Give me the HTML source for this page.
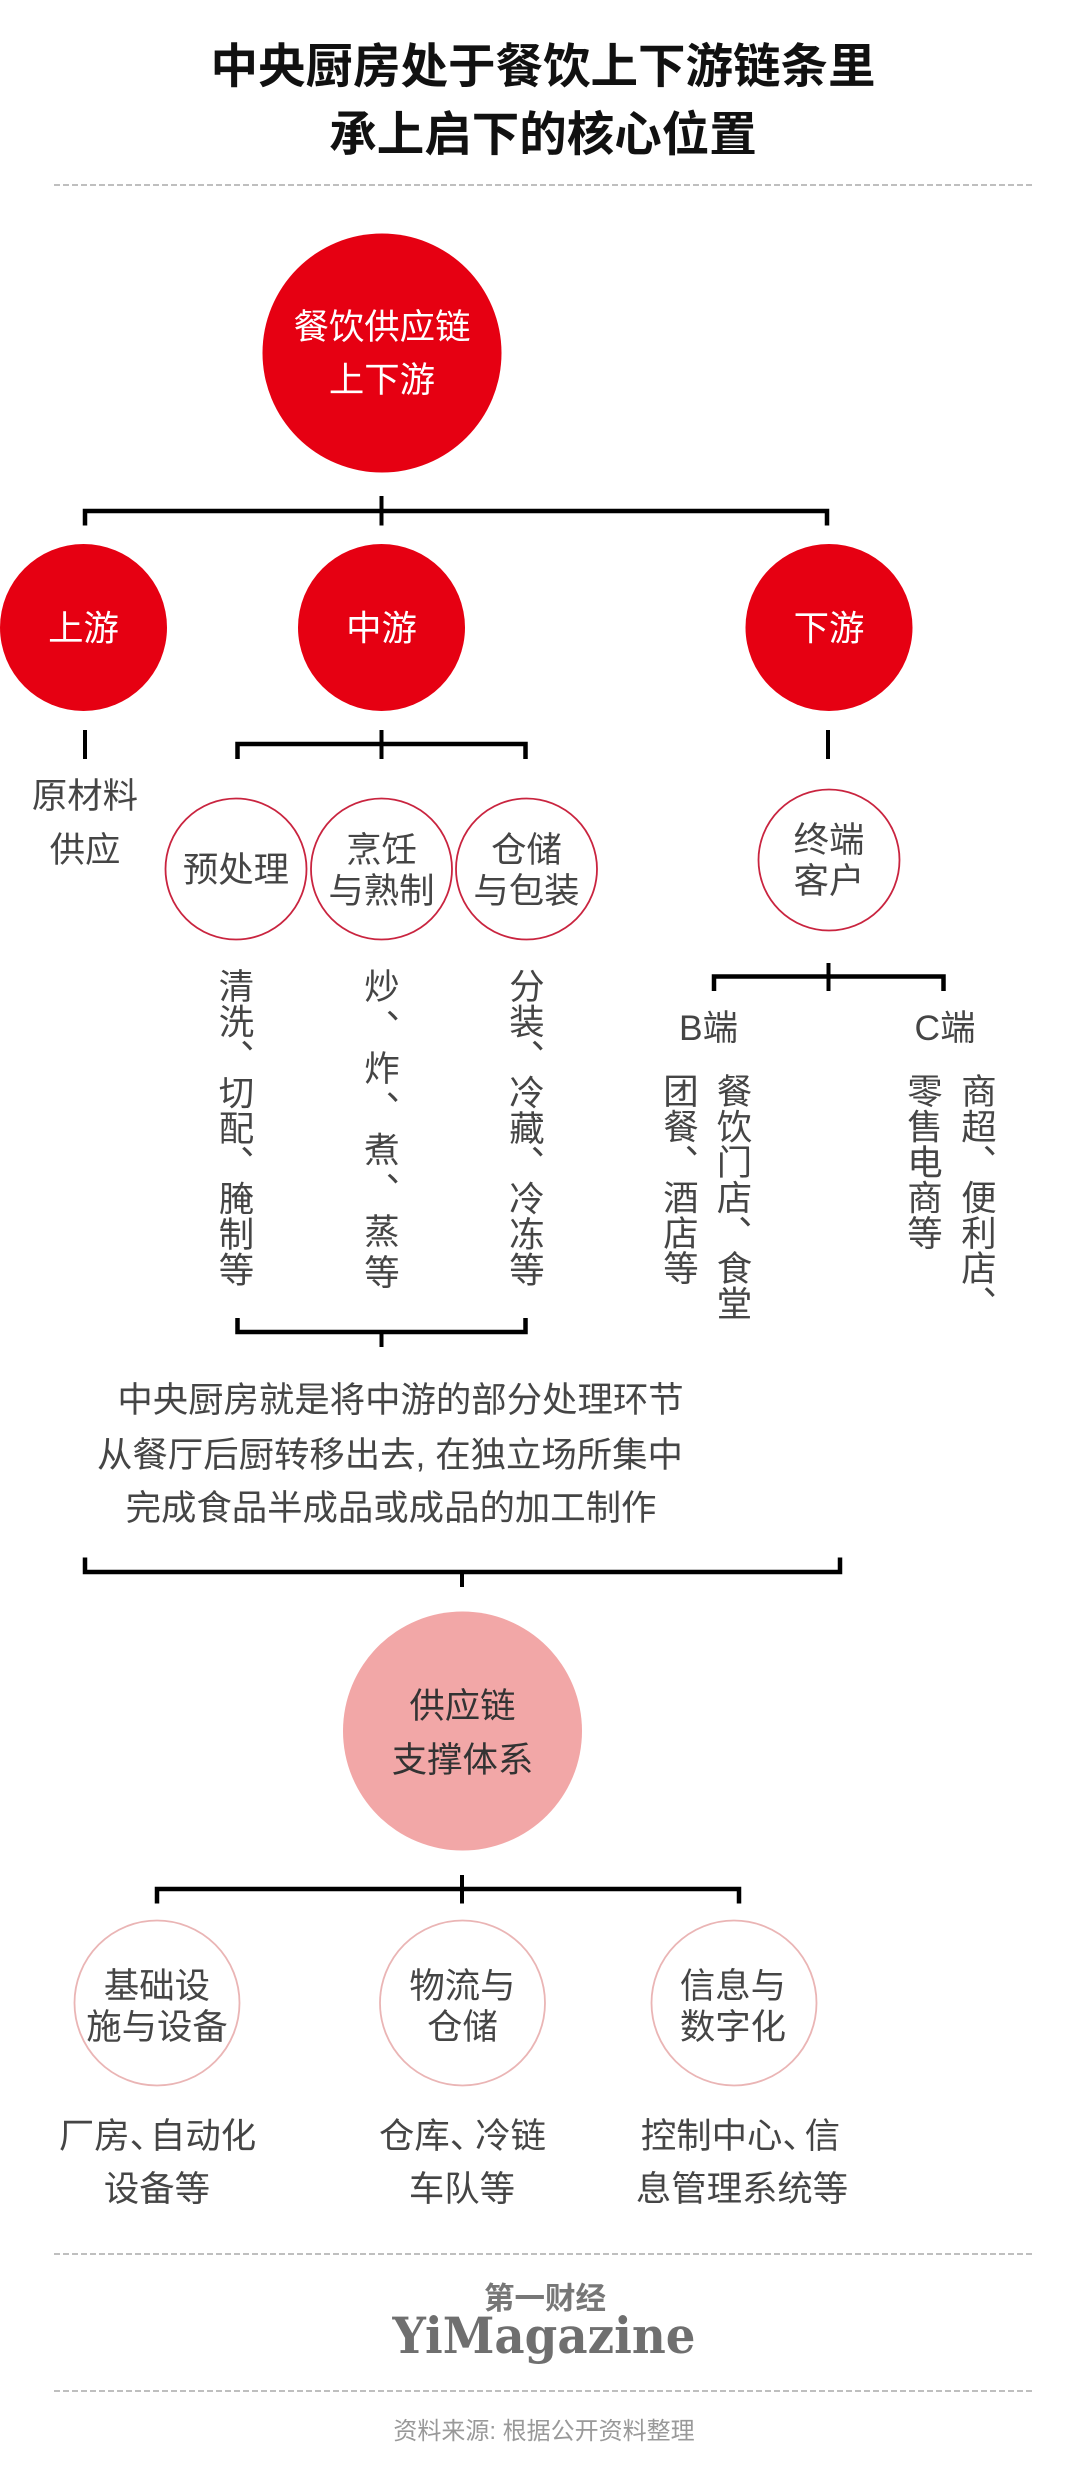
<!DOCTYPE html>
<html lang="zh-CN"><head><meta charset="utf-8"><title>中央厨房</title>
<style>
html,body{margin:0;padding:0;background:#fff;width:1080px;height:2480px;overflow:hidden}
svg{display:block}
text{font-family:"Liberation Sans","Noto Sans CJK SC",sans-serif;font-size:35.4px;fill:#454545;text-anchor:middle}
.w{fill:#fff}
.t{font-size:47.5px;font-weight:700;fill:#111}
.v{writing-mode:vertical-rl;text-anchor:start;font-size:35.4px}
.br{stroke:#000;stroke-width:4.5;fill:none}
.st{stroke:#000;stroke-width:4;fill:none}
.d{stroke:#aaa;stroke-width:1.6;stroke-dasharray:6 3}
</style></head><body>
<svg width="1080" height="2480" viewBox="0 0 1080 2480" xmlns="http://www.w3.org/2000/svg">
<rect width="1080" height="2480" fill="#fff"/>
<text class="t" x="543" y="83">中央厨房处于餐饮上下游链条里</text>
<text class="t" x="543" y="151">承上启下的核心位置</text>
<line class="d" x1="54" x2="1032" y1="185" y2="185"/>

<circle cx="382" cy="353" r="119.5" fill="#e60012"/>
<text class="w" x="382" y="339">餐饮供应链</text>
<text class="w" x="382" y="392">上下游</text>

<path class="br" d="M85 525.5V511H827V525.5"/><path class="st" d="M381.5 496V525.5"/>

<circle cx="83.5" cy="627.5" r="83.5" fill="#e60012"/><text class="w" x="83.5" y="640.5">上游</text>
<circle cx="381.5" cy="627.5" r="83.5" fill="#e60012"/><text class="w" x="381.5" y="640.5">中游</text>
<circle cx="829" cy="627.5" r="83.5" fill="#e60012"/><text class="w" x="829" y="640.5">下游</text>

<path class="st" d="M85 730V759"/>
<path class="br" d="M237.5 759V744H525.5V759"/><path class="st" d="M381.5 730V759"/>
<path class="st" d="M828 730V759"/>

<text x="85" y="808">原材料</text>
<text x="85" y="862">供应</text>

<g fill="none" stroke="#c9243f" stroke-width="1.8">
<circle cx="236" cy="869" r="70.5"/><circle cx="381.5" cy="869" r="70.5"/><circle cx="526.5" cy="869" r="70.5"/><circle cx="829" cy="860" r="70.5"/>
</g>
<text x="236" y="882">预处理</text>
<text x="381.5" y="862">烹饪</text><text x="381.5" y="903">与熟制</text>
<text x="526.5" y="862">仓储</text><text x="526.5" y="903">与包装</text>
<text x="829" y="852">终端</text><text x="829" y="893">客户</text>

<text class="v" x="234" y="968">清洗、切配、腌制等</text>
<text class="v" x="379.5" y="968" letter-spacing="5.4">炒、炸、煮、蒸等</text>
<text class="v" x="524.5" y="968">分装、冷藏、冷冻等</text>
<path class="br" d="M714 991V976.5H943.5V991"/><path class="st" d="M828.5 963V991"/>
<text x="708.5" y="1040">B端</text><text x="945" y="1040">C端</text>
<text class="v" x="732" y="1073">餐饮门店、食堂</text>
<text class="v" x="678.5" y="1073">团餐、酒店等</text>
<text class="v" x="976.5" y="1073">商超、便利店、</text>
<text class="v" x="922.5" y="1073">零售电商等</text>

<path class="br" d="M237.5 1318V1332H525.5V1318"/><path class="st" d="M381.5 1332V1347"/>

<text x="400.5" y="1412">中央厨房就是将中游的部分处理环节</text>
<text x="390" y="1467">从餐厅后厨转移出去, 在独立场所集中</text>
<text x="391" y="1520">完成食品半成品或成品的加工制作</text>

<path class="br" d="M85 1557.5V1572H840V1557.5"/><path class="st" d="M462 1572V1587"/>

<circle cx="462.5" cy="1731" r="119.5" fill="#f2a7a7"/>
<text x="462.5" y="1718" style="fill:#333">供应链</text>
<text x="462.5" y="1772" style="fill:#333">支撑体系</text>

<path class="br" d="M157 1903.5V1889H739V1903.5"/><path class="st" d="M462 1875V1903.5"/>

<g fill="none" stroke="#eab5b5" stroke-width="1.8">
<circle cx="157" cy="2003" r="82.5"/><circle cx="462.5" cy="2003" r="82.5"/><circle cx="734" cy="2003" r="82.5"/>
</g>
<text x="157" y="1998">基础设</text><text x="157" y="2039">施与设备</text>
<text x="462.5" y="1998">物流与</text><text x="462.5" y="2039">仓储</text>
<text x="733" y="1998">信息与</text><text x="733" y="2039">数字化</text>

<text x="157.5" y="2148">厂房<tspan letter-spacing="-15">、</tspan>自动化</text><text x="157" y="2201">设备等</text>
<text x="462.5" y="2148">仓库<tspan letter-spacing="-10">、</tspan>冷链</text><text x="462" y="2201">车队等</text>
<text x="740.5" y="2148">控制中心<tspan letter-spacing="-13">、</tspan>信</text><text x="742" y="2201">息管理系统等</text>

<line class="d" x1="54" x2="1032" y1="2254" y2="2254"/>
<text x="545" y="2309" style="font-size:30.5px;font-weight:700;fill:#777">第一财经</text>
<text x="544" y="2353" textLength="303" lengthAdjust="spacingAndGlyphs" style="font-family:'DejaVu Serif','Liberation Serif',serif;font-weight:700;font-size:50px;fill:#6f6f6f">YiMagazine</text>
<line class="d" x1="54" x2="1032" y1="2391" y2="2391"/>
<text x="544" y="2439" style="font-size:24px;fill:#999">资料来源: 根据公开资料整理</text>
</svg>
</body></html>
